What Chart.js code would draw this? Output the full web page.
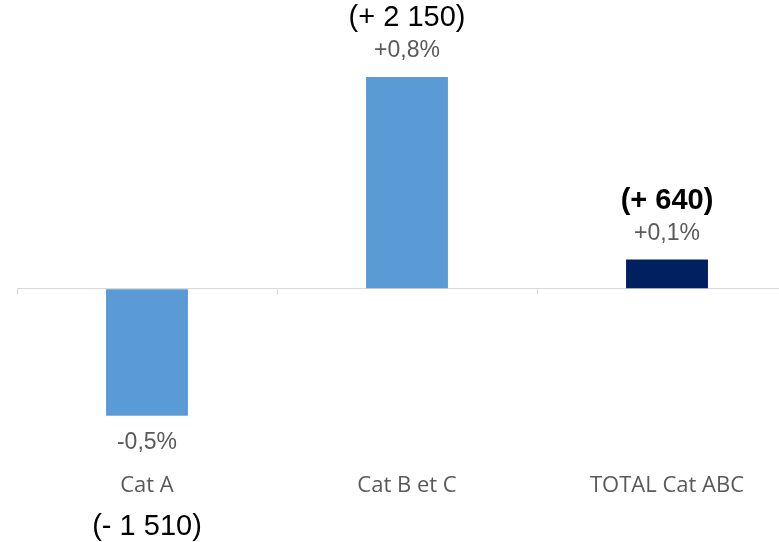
<!DOCTYPE html>
<html>
<head>
<meta charset="utf-8">
<script src="https://cdn.jsdelivr.net/npm/chart.js@4/dist/chart.umd.min.js"></script>
<style>
  html, body { margin: 0; padding: 0; background: #fff; overflow: hidden; }
  #wrap { width: 800px; height: 542px; }
</style>
</head>
<body>
<div id="wrap"><canvas id="myChart" width="800" height="542"></canvas></div>
<script>
// categories and values (% change), plus absolute change in units
const categories = ['Cat A', 'Cat B et C', 'TOTAL Cat ABC'];
const pctValues = [-0.48, 0.80, 0.11];
const amounts = [-1510, 2150, 640];
const barColors = ['#5B9BD5', '#5B9BD5', '#002060'];

function fmtPct(v) {
    const s = Math.abs(v).toFixed(1).replace('.', ',');
    return (v < 0 ? '-' : '+') + s + '%';
}

function fmtAmount(v) {
    const s = Math.abs(v).toString().replace(/\B(?=(\d{3})+(?!\d))/g, ' ');
    return '(' + (v < 0 ? '- ' : '+ ') + s + ')';
}

// labels over/under the bars + zero axis tick marks
const labelPlugin = {
    id: 'barLabels',
    afterDatasetsDraw(chart) {
        const ctx = chart.ctx;
        const meta = chart.getDatasetMeta(0);
        const x = chart.scales.x;
        const y = chart.scales.y;
        const zeroY = y.getPixelForValue(0);

        // little tick marks between categories on the zero line
        const step = (x.right - x.left) / categories.length;
        ctx.save();
        ctx.strokeStyle = '#d9d9d9';
        ctx.lineWidth = 1;
        for (let i = 0; i <= categories.length; i++) {
            const px = Math.round(x.left + i * step) + 0.5;
            ctx.beginPath();
            ctx.moveTo(px, zeroY);
            ctx.lineTo(px, zeroY + 6);
            ctx.stroke();
        }

        ctx.textAlign = 'center';
        ctx.textBaseline = 'middle';
        meta.data.forEach((bar, i) => {
            const v = pctValues[i];
            ctx.fillStyle = '#595959';
            ctx.font = '23px "Liberation Sans", Arial, sans-serif';
            if (v >= 0) {
                ctx.fillText(fmtPct(v), bar.x, bar.y - 26);
            } else {
                ctx.fillText(fmtPct(v), bar.x, bar.y + 27);
            }

            ctx.fillStyle = '#000000';
            const bold = i === categories.length - 1 ? 'bold ' : '';
            ctx.font = bold + '29px "Liberation Sans", Arial, sans-serif';
            if (v >= 0) {
                ctx.fillText(fmtAmount(amounts[i]), bar.x, bar.y - 59);
            } else {
                ctx.fillText(fmtAmount(amounts[i]), bar.x, chart.height - 15);
            }
        });
        ctx.restore();
    }
};

new Chart(document.getElementById('myChart'), {
    type: 'bar',
    data: {
        labels: categories,
        datasets: [{
            data: pctValues,
            backgroundColor: barColors,
            borderWidth: 0,
            categoryPercentage: 1,
            barPercentage: 0.315
        }]
    },
    options: {
        responsive: false,
        animation: false,
        events: [],
        layout: { padding: { top: 50.5, left: 17, right: 3, bottom: 39 } },
        plugins: {
            legend: { display: false },
            tooltip: { enabled: false }
        },
        scales: {
            x: {
                grid: { display: false, drawTicks: false },
                border: { display: false },
                ticks: {
                    color: '#595959',
                    padding: 4,
                    font: { family: '"Open Sans", sans-serif', size: 22 }
                }
            },
            y: {
                min: -0.68,
                max: 0.9,
                border: { display: false },
                ticks: { display: false, stepSize: 0.1 },
                grid: {
                    drawTicks: false,
                    color: c => Math.abs(c.tick.value) < 1e-9 ? '#d9d9d9' : 'rgba(0,0,0,0)'
                }
            }
        }
    },
    plugins: [labelPlugin]
});
</script>
</body>
</html>
